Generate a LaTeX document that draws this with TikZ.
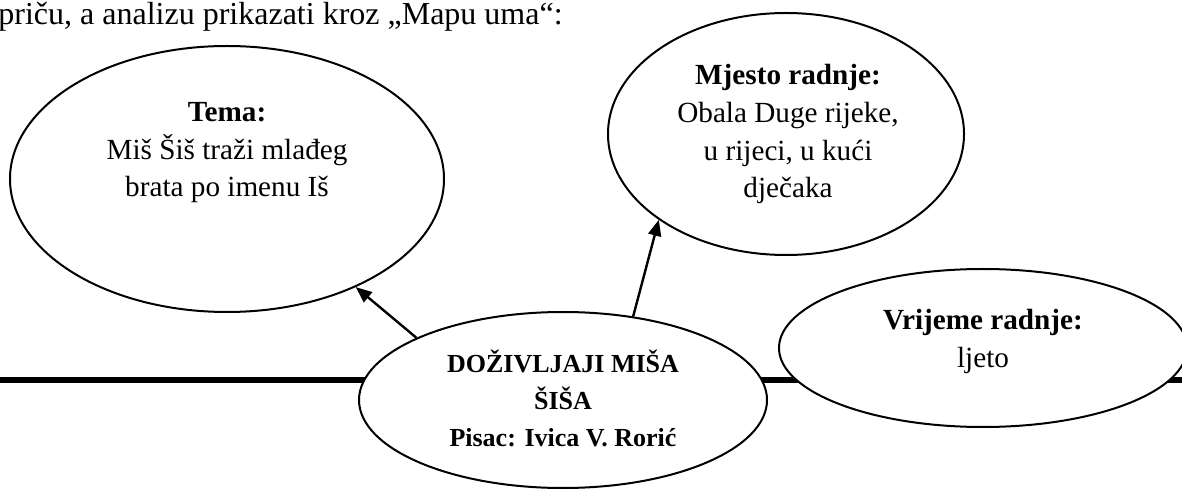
\documentclass[tikz,border=0pt]{standalone}
\usepackage{fontspec}
\setmainfont{Liberation Serif}
\usetikzlibrary{shapes.geometric,arrows.meta}

\tikzset{
    bubble/.style={draw, ellipse, fill=white, line width=1pt, inner sep=0pt},
    bubbletxt/.style={align=center, anchor=base, font=\fontsize{14.6}{18.9}\selectfont},
    pointer/.style={line width=1.2pt, -{Triangle[length=8pt,width=6.5pt]}}
}

\begin{document}
\begin{tikzpicture}[x=0.5pt,y=-0.5pt]
        \useasboundingbox (0,0) rectangle (1182,491);

        \node[anchor=base west, inner sep=0pt, font=\fontsize{16}{19}\selectfont] (uvod) at (-2,25) {priču, a analizu prikazati kroz „Mapu uma“:};

        \coordinate (linijaL) at (0,380);
        \coordinate (linijaD) at (1182,380);
        \draw[line width=3pt] (linijaL) -- (linijaD);

        \node[bubble, minimum width=217pt, minimum height=133pt] (tema) at (227,179) {};
        \node[bubble, minimum width=178pt, minimum height=121pt] (mjesto) at (786,134) {};
        \node[bubble, minimum width=204pt, minimum height=79pt] (vrijeme) at (983,348) {};
        \node[bubble, minimum width=204pt, minimum height=88pt] (glavno) at (563,400) {};

        \node[bubbletxt] (temaTxt) at (227,197) {\textbf{Tema:}\\Miš Šiš traži mlađeg\\brata po imenu Iš};
        \node[bubbletxt] (mjestoTxt) at (788,198) {\textbf{Mjesto radnje:}\\Obala Duge rijeke,\\u rijeci, u kući\\dječaka};
        \node[bubbletxt] (vrijemeTxt) at (983,367) {\textbf{Vrijeme radnje:}\\ljeto};
        \node[bubbletxt, font=\bfseries\fontsize{13}{18.5}\selectfont] (glavnoTxt) at (563,446) {DOŽIVLJAJI MIŠA\\ŠIŠA\\Pisac: Ivica V. Rorić};

        \draw[pointer] (glavno.157) -- (tema.-40);
        \draw[pointer] (glavno.50) -- (mjesto.214);
    \end{tikzpicture}
\end{document}
